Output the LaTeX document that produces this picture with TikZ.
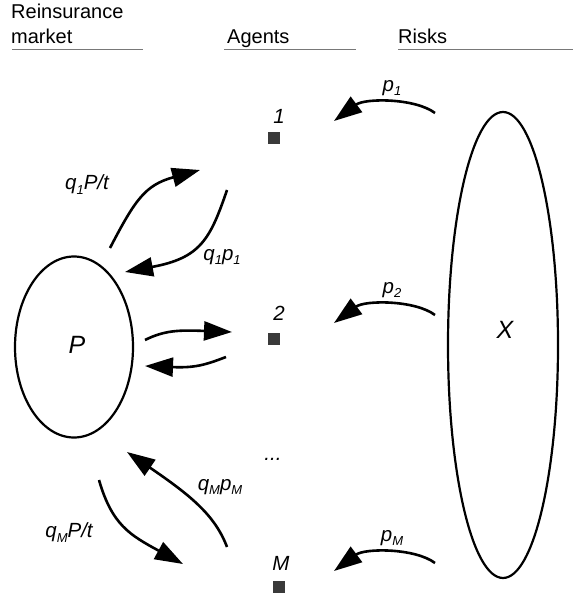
\documentclass[tikz,border=0pt]{standalone}
\usepackage{fontspec}
\setmainfont{Liberation Sans}
\usepackage{tikz}
\usetikzlibrary{positioning,arrows.meta,shapes.geometric}
\usepackage{xcolor}
\definecolor{boxgray}{RGB}{58,58,58}
\definecolor{rulegray}{RGB}{120,120,120}
\newcommand{\lowidx}[1]{\raisebox{-0.45ex}{\fontsize{13}{13}\selectfont #1}}

\begin{document}
\begin{tikzpicture}[x=1pt,y=-1pt,
  head/.style={font=\fontsize{20}{25}\selectfont,inner sep=0pt},
  lab/.style={font=\fontsize{20.5}{22}\selectfont\itshape,inner sep=0pt},
  biglab/.style={font=\fontsize{25}{28}\selectfont\itshape,inner sep=0pt},
  agent/.style={rectangle,fill=boxgray,minimum size=12pt,inner sep=0pt},
  pot/.style={draw,ellipse,line width=2.2pt,inner sep=0pt},
  flow/.style={line width=2.6pt,-{Triangle[length=28pt,width=19pt]}},
  hrule/.style={rulegray,line width=1pt}]
\useasboundingbox (0,0) rectangle (573,601);

% column headings
\node[head,anchor=base west] (reins) at (11,19) {Reinsurance};
\node[head,anchor=base west] (mkt) at (11,44) {market};
\node[head,anchor=base west] (agt) at (227,44) {Agents};
\node[head,anchor=base west] (rsk) at (398,44) {Risks};
\draw[hrule] (12,50) -- (143,50);
\draw[hrule] (224,50) -- (356,50);
\draw[hrule] (398,50) -- (573,50);

% pool and risks
\node[pot,minimum width=118pt,minimum height=181pt] (pool) at (74,347) {};
\node[biglab] (plab) at (77,345) {P};
\node[pot,minimum width=110pt,minimum height=466pt] (risk) at (503,345) {};
\node[biglab] (xlab) at (505,330) {X};

% agents
\node[agent] (a1) at (274,138) {};
\node[agent] (a2) at (274,339) {};
\node[agent] (aM) at (279,587) {};
\node[lab] (n1) at (279,116) {1};
\node[lab] (n2) at (279,313) {2};
\node[lab] (nM) at (281,563) {M};
\node[lab] (dots) at (273,459) {...};

% risks to agents
\foreach \y/\i in {113/1,315/2,563/M}{
  \coordinate (ps\i) at (435,\y);
  \coordinate (pe\i) at (334,\y+8);
  \draw[flow] (ps\i) .. controls (415,\y-15) and (365,\y-15) .. (pe\i);
  \node[lab] (pl\i) at (392,\y-25) {p\lowidx{\i}};
}

% agent 1 and the pool
\coordinate (q1s) at (110,248);
\coordinate (q1e) at (200,170);
\draw[flow] (q1s) .. controls (135,200) and (145,185) .. (q1e);
\node[lab] (q1lab) at (87,185) {q\lowidx{1}P/t};
\coordinate (r1s) at (227,190);
\coordinate (r1e) at (125,272);
\draw[flow] (r1s) .. controls (210,240) and (200,258) .. (r1e);
\node[lab] (r1lab) at (222,257) {q\lowidx{1}p\lowidx{1}};

% agent 2 and the pool
\coordinate (q2s) at (145,340);
\coordinate (q2e) at (232,332);
\draw[flow] (q2s) .. controls (165,330) and (180,330) .. (q2e);
\coordinate (r2s) at (226,357);
\coordinate (r2e) at (145,366);
\draw[flow] (r2s) .. controls (205,365) and (195,368) .. (r2e);

% agent M and the pool
\coordinate (rMs) at (227,547);
\coordinate (rMe) at (127,452);
\draw[flow] (rMs) .. controls (215,515) and (190,495) .. (rMe);
\node[lab] (rMlab) at (220,487) {q\lowidx{M}p\lowidx{M}};
\coordinate (qMs) at (99,480);
\coordinate (qMe) at (183,564);
\draw[flow] (qMs) .. controls (112,525) and (130,535) .. (qMe);
\node[lab] (qMlab) at (69,533) {q\lowidx{M}P/t};
\end{tikzpicture}
\end{document}
